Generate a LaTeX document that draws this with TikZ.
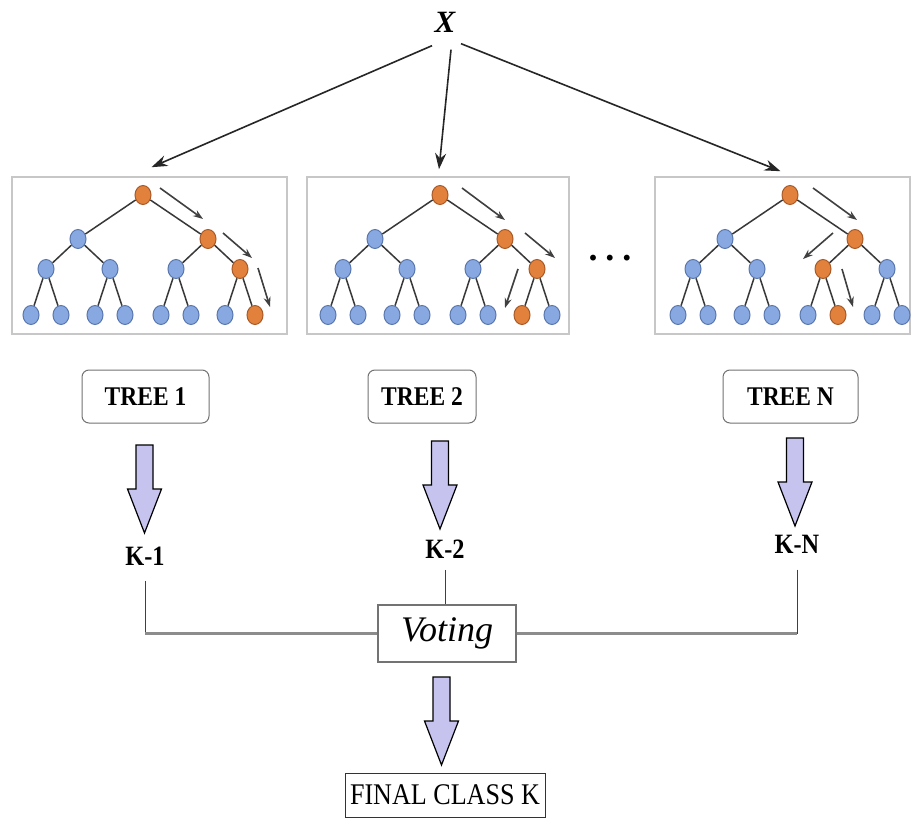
\documentclass[tikz,border=0pt]{standalone}
\usepackage{fontspec}
\setmainfont{Liberation Serif}
\newfontfamily\condserif[FakeStretch=0.87]{Liberation Serif}
\usetikzlibrary{shapes.geometric,arrows.meta,calc}
\definecolor{nodeblue}{HTML}{88A8E2}
\definecolor{nodeblueline}{HTML}{5A78AE}
\definecolor{nodeorange}{HTML}{E2813C}
\definecolor{nodeorangeline}{HTML}{A85A28}
\definecolor{lav}{HTML}{C6C3EE}
\tikzset{
  panel/.style={draw=black!22, line width=1.6pt, fill=white, minimum height=157pt, inner sep=0pt},
  tn/.style={ellipse, minimum width=16pt, minimum height=19pt, inner sep=0pt, line width=1pt},
  edge/.style={draw=black!78, line width=1.5pt},
  trav/.style={draw=black!75, line width=1.6pt, -{Stealth[length=10pt,width=7pt]}},
  xarrow/.style={draw=black!85, line width=1.6pt, -{Stealth[length=16pt,width=11pt]}},
  lab/.style={draw=black!55, rounded corners=7pt, line width=1pt, minimum height=53pt,
    font=\condserif\fontsize{27}{27}\selectfont\bfseries},
  kl/.style={font=\condserif\fontsize{28}{28}\selectfont\bfseries},
  vline/.style={draw=black!75, line width=1pt},
  hline/.style={draw=black!45, line width=2.4pt},
  blockdown/.pic={
    \filldraw[fill=lav, draw=black, line width=1.2pt]
      (-8.5,0) -- (8.5,0) -- (8.5,44) -- (17,44) -- (0,88) -- (-17,44) -- (-8.5,44) -- cycle;
  }
}
\begin{document}
\begin{tikzpicture}[x=1pt, y=-1pt]
\useasboundingbox[fill=white] (0,0) rectangle (913,818);

% input
\node[font=\fontsize{31}{31}\selectfont\bfseries\itshape] (X) at (445,22) {X};

% tree panels
\node[panel, minimum width=275pt] (p1) at (149.5,255.5) {};
\node[panel, minimum width=262pt] (p2) at (438,255.5) {};
\node[panel, minimum width=255pt] (p3) at (782.5,255.5) {};

\draw[xarrow] ($(X.south)+(-13,10)$) -- ($(p1.north)+(2,-9)$);
\draw[xarrow] ($(X.south)+(6,14)$) -- ($(p2.north)+(1,-7)$);
\draw[xarrow] ($(X.south)+(16,8)$) -- ($(p3.north)+(-2,-5)$);

% binary trees; heap indices, orange nodes mark the decision path
\foreach \t/\rx/\oa/\ob/\oc in {1/143/3/7/15, 2/440/3/7/14, 3/790/3/6/13}{
  \foreach \k/\dx/\y in {1/0/195, 2/-65/239, 3/65/239,
      4/-97/269, 5/-33/269, 6/33/269, 7/97/269,
      8/-112/315, 9/-82/315, 10/-48/315, 11/-18/315,
      12/18/315, 13/48/315, 14/82/315, 15/112/315}{
    \def\ncol{nodeblue}\def\nline{nodeblueline}
    \ifnum\k=1 \def\ncol{nodeorange}\def\nline{nodeorangeline}\fi
    \ifnum\k=\oa \def\ncol{nodeorange}\def\nline{nodeorangeline}\fi
    \ifnum\k=\ob \def\ncol{nodeorange}\def\nline{nodeorangeline}\fi
    \ifnum\k=\oc \def\ncol{nodeorange}\def\nline{nodeorangeline}\fi
    \node[tn, fill=\ncol, draw=\nline] (t\t-\k) at (\rx+\dx,\y) {};
  }
  \foreach \k in {2,...,15}{
    \pgfmathtruncatemacro\p{\k/2}
    \draw[edge] (t\t-\p) -- (t\t-\k);
  }
}

% traversal arrows
\foreach \n/\ax/\ay/\bx/\by in {
    a1/160/188/203/219, a2/223/233/252/258, a3/258/268/270/307,
    b1/462/188/505/220, b2/525/233/555/258, b3/518/269/505/308,
    c1/813/188/857/220, c2/833/233/803/259, c3/842/269/853/307}{
  \coordinate (\n s) at (\ax,\ay);
  \coordinate (\n e) at (\bx,\by);
  \draw[trav] (\n s) -- (\n e);
}

\node[font=\fontsize{36}{36}\selectfont\bfseries] (dots) at (610,258) {.\hspace{8pt}.\hspace{8pt}.};

% tree labels
\node[lab, minimum width=127pt] (l1) at (145.5,396.5) {TREE 1};
\node[lab, minimum width=108pt] (l2) at (422,396.5) {TREE 2};
\node[lab, minimum width=135pt] (l3) at (790.5,396.5) {TREE N};

% block arrows
\pic at (144.5,445) {blockdown};
\pic at (440,441) {blockdown};
\pic at (795,438) {blockdown};
\pic at (441.5,677) {blockdown};

% predictions
\node[kl] (k1) at (145,556) {K-1};
\node[kl] (k2) at (445,549) {K-2};
\node[kl] (kN) at (797,544) {K-N};

\node[draw=black!55, line width=1.4pt, minimum width=138pt, minimum height=57pt,
  font=\fontsize{36}{36}\selectfont\itshape] (vote) at (447,633.5) {Voting};

\draw[vline, shorten <=12pt] (k1.south) -- (k1.south |- vote.west);
\draw[hline] (k1.south |- vote.west) -- (vote.west);
\draw[vline, shorten <=8pt] (k2.south) -- (k2.south |- vote.north);
\draw[vline, shorten <=13pt] (kN.south) -- (kN.south |- vote.east);
\draw[hline] (vote.east) -- (kN.south |- vote.east);

\node[draw=black!80, line width=1pt, minimum width=200pt, minimum height=44pt,
  font=\condserif\fontsize{30}{30}\selectfont] (final) at (445,795) {FINAL CLASS K};
\end{tikzpicture}
\end{document}
